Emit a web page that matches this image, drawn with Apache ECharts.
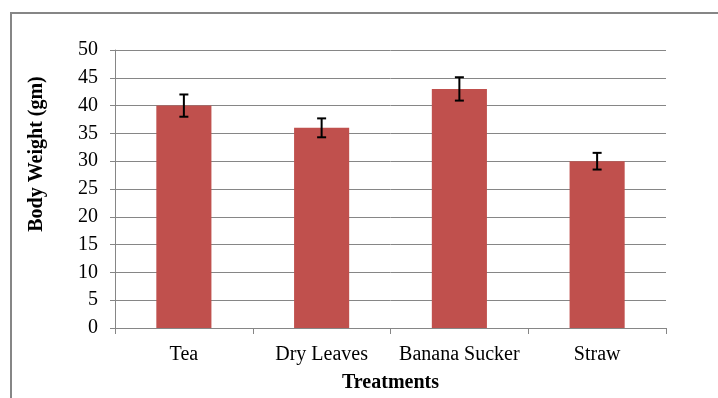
<!DOCTYPE html>
<html>
<head>
<meta charset="utf-8">
<script src="https://cdn.jsdelivr.net/npm/echarts@6/dist/echarts.min.js"></script>
<style>
  html, body { margin: 0; padding: 0; background: #fff; }
  #chart { width: 718px; height: 398px; }
</style>
</head>
<body>
<div id="chart"></div>
<script>
// 数据
const categories = ['Tea', 'Dry Leaves', 'Banana Sucker', 'Straw'];
const weights = [40, 36, 43, 30];
const errors = [2, 1.7, 2.1, 1.5];
const yTicks = [0, 5, 10, 15, 20, 25, 30, 35, 40, 45, 50];

const font = '"Liberation Serif", "Times New Roman", serif';
const errData = categories.map((c, i) => [i, weights[i] - errors[i], weights[i] + errors[i]]);

const chart = echarts.init(document.getElementById('chart'));
const option = {
  animation: false,
  graphic: [{
    type: 'rect',
    shape: { x: 11, y: 13, width: 720, height: 400 },
    style: { fill: 'none', stroke: '#868686', lineWidth: 2 },
    silent: true
  }, {
    // 纵轴标题（位置偏上，和原图一致）
    type: 'text',
    x: 37,
    y: 154,
    rotation: Math.PI / 2,
    style: {
      text: 'Body Weight (gm)',
      font: 'bold 20px ' + font,
      fill: '#000',
      align: 'center',
      verticalAlign: 'middle'
    }
  }],
  grid: { left: 115, right: 52, top: 50, bottom: 68 },
  xAxis: {
    type: 'category',
    data: categories,
    name: 'Treatments',
    nameLocation: 'middle',
    nameGap: 45,
    nameTextStyle: { fontFamily: font, fontWeight: 'bold', fontSize: 20, color: '#000' },
    axisLine: { lineStyle: { color: '#868686', width: 1 } },
    axisTick: { show: true, alignWithLabel: false, length: 6, lineStyle: { color: '#868686' } },
    axisLabel: { fontFamily: font, fontSize: 20, color: '#000', margin: 17, interval: 0 }
  },
  yAxis: {
    type: 'value',
    min: yTicks[0],
    max: yTicks[yTicks.length - 1],
    interval: 5,
    axisLine: { show: true, lineStyle: { color: '#868686', width: 1 } },
    axisTick: { show: true, length: 5, lineStyle: { color: '#868686' } },
    axisLabel: { fontFamily: font, fontSize: 20, color: '#000', margin: 17 },
    splitLine: { lineStyle: { color: '#868686', width: 1 } }
  },
  series: [{
    type: 'bar',
    data: weights,
    barWidth: '40%',
    itemStyle: { color: '#C0504D' }
  }, {
    type: 'custom',
    data: errData,
    z: 5,
    renderItem: (params, api) => {
      const lo = api.coord([api.value(0), api.value(1)]);
      const hi = api.coord([api.value(0), api.value(2)]);
      const half = 4.5;
      const st = { stroke: '#000', lineWidth: 2 };
      return {
        type: 'group',
        children: [
          { type: 'line', shape: { x1: hi[0], y1: hi[1], x2: lo[0], y2: lo[1] }, style: st },
          { type: 'line', shape: { x1: hi[0] - half, y1: hi[1], x2: hi[0] + half, y2: hi[1] }, style: st },
          { type: 'line', shape: { x1: lo[0] - half, y1: lo[1], x2: lo[0] + half, y2: lo[1] }, style: st }
        ]
      };
    }
  }]
};
chart.setOption(option);
</script>
</body>
</html>
